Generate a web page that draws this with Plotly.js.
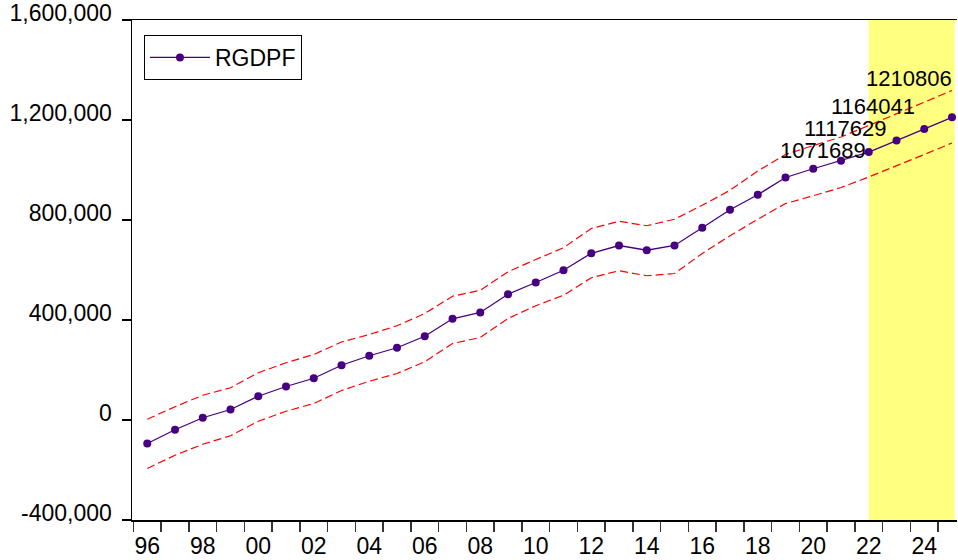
<!DOCTYPE html>
<html>
<head>
<meta charset="utf-8">
<script src="https://cdn.plot.ly/plotly-3.0.1.min.js"></script>
<style>
  html, body { margin: 0; padding: 0; background: #ffffff; }
  #chart { width: 958px; height: 560px; }
</style>
</head>
<body>
<div id="chart"></div>
<script>
// ---- data ----
const years = [1996, 1997, 1998, 1999, 2000, 2001, 2002, 2003, 2004, 2005,
               2006, 2007, 2008, 2009, 2010, 2011, 2012, 2013, 2014, 2015,
               2016, 2017, 2018, 2019, 2020, 2021, 2022, 2023, 2024, 2025];
const rgdpf = [-94000, -39000, 9000, 42000, 95000, 134000, 167000, 219000, 257000, 289000,
               335000, 405000, 430000, 503000, 550000, 599000, 667000, 698000, 679000, 698000,
               769000, 841000, 901000, 970000, 1005000, 1037000, 1071689, 1117629, 1164041, 1210806];
const upperBand = [3000, 53000, 99000, 129000, 189000, 229000, 262000, 312000, 342000, 377000,
                   426000, 495000, 519000, 593000, 642000, 689000, 766000, 795000, 777000, 803000,
                   859000, 919000, 996000, 1062000, 1098000, 1132000, 1178000, 1224000, 1270000, 1318000];
const lowerBand = [-194000, -141000, -97000, -63000, -5000, 35000, 66000, 118000, 155000, 186000,
                   233000, 306000, 330000, 406000, 457000, 499000, 569000, 597000, 577000, 586000,
                   666000, 737000, 803000, 866000, 897000, 930000, 972000, 1016000, 1062000, 1108000];
const labelledYears = [2022, 2023, 2024, 2025];
const forecastStart = 2022;
const xTickYears = [1996, 1998, 2000, 2002, 2004, 2006, 2008, 2010, 2012, 2014, 2016, 2018, 2020, 2022, 2024];
const xTickText = ['96', '98', '00', '02', '04', '06', '08', '10', '12', '14', '16', '18', '20', '22', '24'];
const yTickVals = [-400000, 0, 400000, 800000, 1200000, 1600000];
const yTickText = ['-400,000', '0', '400,000', '800,000', '1,200,000', '1,600,000'];
const seriesName = 'RGDPF';

// ---- label placement (style only) ----
const labelShifts = [[-1, 2], [-9, 12], [-7, 22], [2, 39]];

const FONT = 'Arial, "Liberation Sans", sans-serif';
const purple = 'rgb(72,0,130)';
const red = '#ff0000';

const traces = [
  { x: years, y: upperBand, type: 'scatter', mode: 'lines', showlegend: false, hoverinfo: 'skip',
    line: { color: red, width: 1.2, dash: '8px,4px' } },
  { x: years, y: lowerBand, type: 'scatter', mode: 'lines', showlegend: false, hoverinfo: 'skip',
    line: { color: red, width: 1.2, dash: '8px,4px' } },
  { x: years, y: rgdpf, type: 'scatter', mode: 'lines+markers', name: seriesName,
    line: { color: purple, width: 1.3 },
    marker: { color: purple, size: 8 } }
];

const annotations = labelledYears.map((yr, k) => {
  const i = years.indexOf(yr);
  return {
    x: years[i], y: rgdpf[i], xref: 'x', yref: 'y', text: String(rgdpf[i]),
    showarrow: false, xanchor: 'right', yanchor: 'middle',
    xshift: labelShifts[k][0], yshift: labelShifts[k][1],
    font: { family: FONT, size: 22, color: '#000' }
  };
});

const layout = {
  width: 958, height: 560,
  margin: { l: 132, r: 1, t: 20, b: 40, pad: 0 },
  paper_bgcolor: '#ffffff', plot_bgcolor: '#ffffff',
  font: { family: FONT, size: 23, color: '#000' },
  showlegend: true,
  legend: { x: 0.0145, y: 0.97, xanchor: 'left', yanchor: 'top',
            bgcolor: '#ffffff', bordercolor: '#000', borderwidth: 1,
            itemwidth: 60, entrywidth: 95, entrywidthmode: 'pixels',
            font: { family: FONT, size: 23, color: '#000' } },
  xaxis: {
    range: [1995.45, 2025.18],
    tickmode: 'array', tickvals: xTickYears, ticktext: xTickText,
    ticks: '', showgrid: false, zeroline: false,
    showline: true, linecolor: '#000', linewidth: 1.5, mirror: true,
    tickfont: { family: FONT, size: 23, color: '#000' },
    ticklabelstandoff: 5,
    minor: { tickmode: 'linear', tick0: 1995.5, dtick: 1, ticks: 'outside',
             ticklen: 10, tickwidth: 1.5, tickcolor: '#333', showgrid: false }
  },
  yaxis: {
    range: [-400000, 1600000],
    tickmode: 'array', tickvals: yTickVals, ticktext: yTickText,
    ticks: 'outside', ticklen: 9, tickwidth: 1.5, tickcolor: '#000',
    showgrid: false, zeroline: false,
    showline: true, linecolor: '#000', linewidth: 1.5,
    tickfont: { family: FONT, size: 23, color: '#000' },
    ticklabelstandoff: 5, ticklabelshift: -7
  },
  shapes: [
    { type: 'rect', xref: 'x', yref: 'paper', x0: forecastStart, x1: 2025.1, y0: 0, y1: 1,
      fillcolor: '#ffff80', line: { width: 0 }, layer: 'below' }
  ],
  annotations: annotations
};

Plotly.newPlot('chart', traces, layout, { displayModeBar: false, staticPlot: true });
</script>
</body>
</html>
